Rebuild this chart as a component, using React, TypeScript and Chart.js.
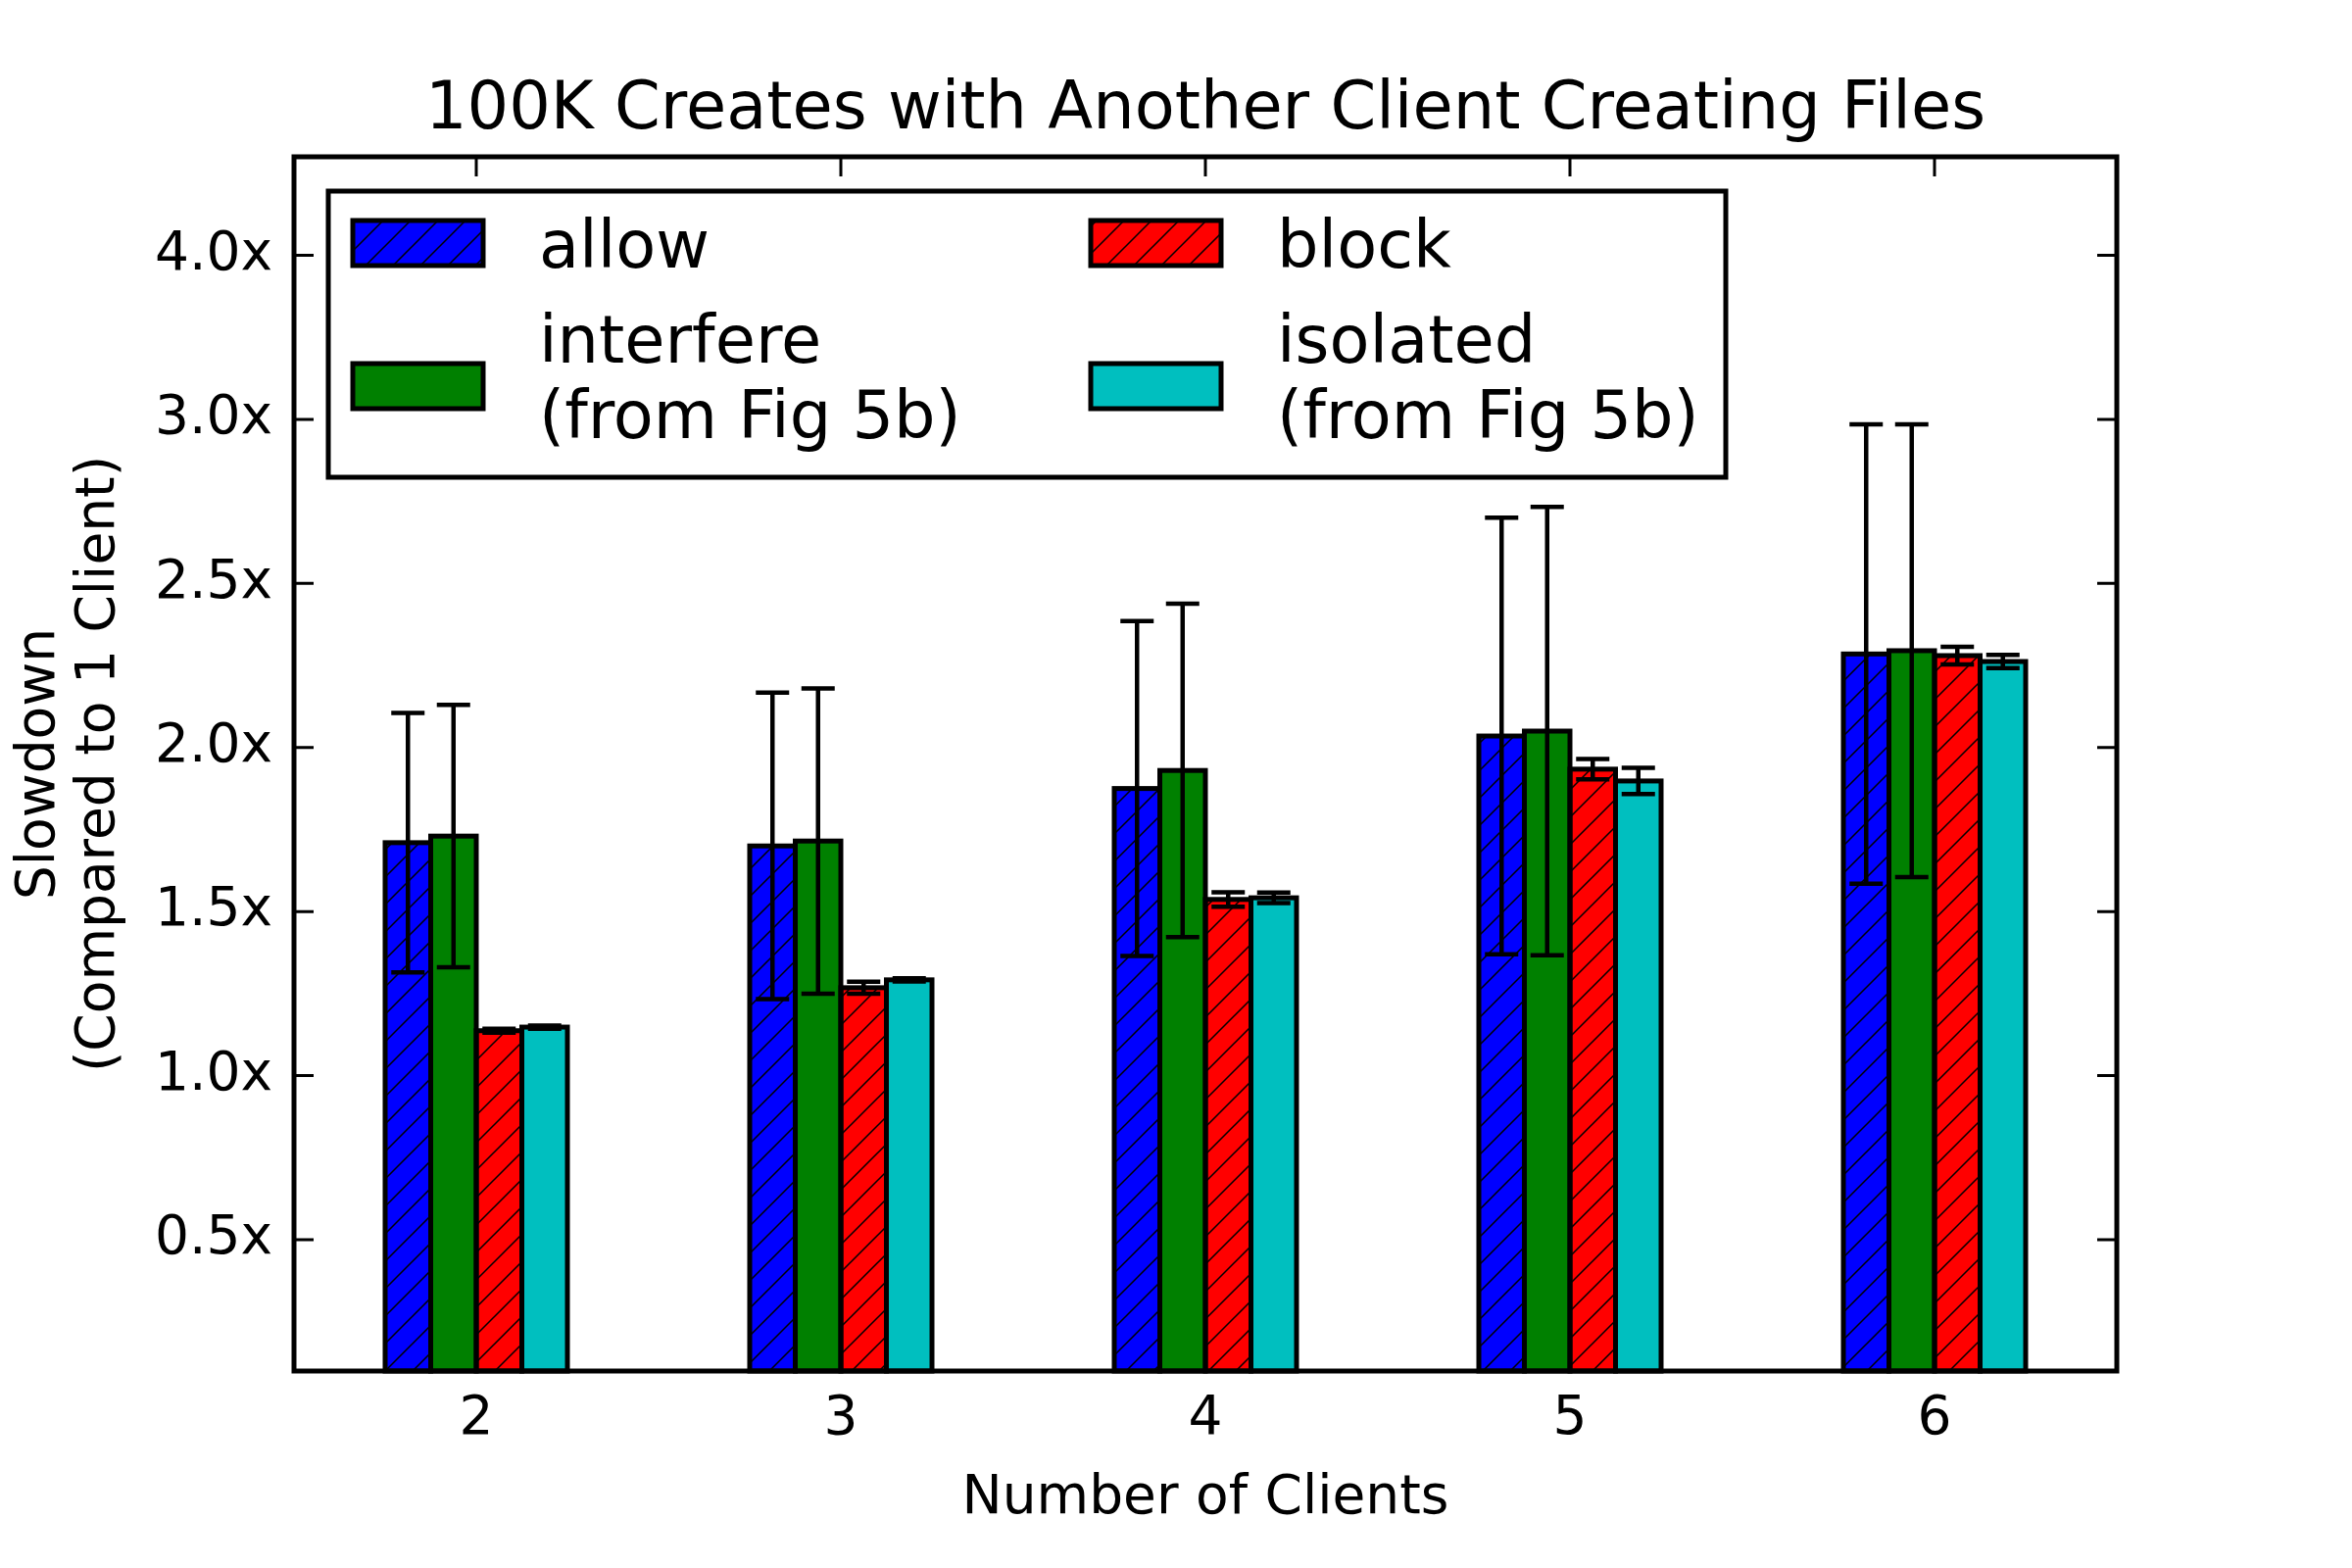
import React, { useEffect, useRef } from "react";
import { Chart, registerables } from "chart.js";

Chart.register(...registerables);

const categories = ["2", "3", "4", "5", "6"];
const allowValues = [1.71, 1.7, 1.875, 2.035, 2.285];
const allowErrors = [0.395, 0.467, 0.51, 0.665, 0.7];
const interfereValues = [1.73, 1.715, 1.93, 2.05, 2.295];
const interfereErrors = [0.4, 0.465, 0.508, 0.683, 0.69];
const blockValues = [1.137, 1.268, 1.537, 1.934, 2.28];
const blockErrors = [0.006, 0.018, 0.022, 0.031, 0.027];
const isolatedValues = [1.148, 1.292, 1.542, 1.898, 2.262];
const isolatedErrors = [0.005, 0.005, 0.016, 0.04, 0.02];
const yTickValues = [0.5, 1.0, 1.5, 2.0, 2.5, 3.0, 3.5];
const yTickLabels = ["0.5x", "1.0x", "1.5x", "2.0x", "2.5x", "3.0x", "4.0x"];
const seriesLabels = [["allow"], ["interfere", "(from Fig 5b)"], ["block"], ["isolated", "(from Fig 5b)"]];
const titleText = "100K Creates with Another Client Creating Files";
const xTitle = "Number of Clients";
const yTitle = ["Slowdown", "(Compared to 1 Client)"];

const FONT = "DejaVu Sans";

function makeHatch(ctx: CanvasRenderingContext2D, color: string): CanvasPattern | string {
  const s = 28;
  const c = document.createElement("canvas");
  c.width = s;
  c.height = s;
  const g = c.getContext("2d");
  if (!g) return color;
  g.fillStyle = color;
  g.fillRect(0, 0, s, s);
  g.strokeStyle = "#000";
  g.lineWidth = 1.5;
  g.beginPath();
  g.moveTo(-2, s + 2);
  g.lineTo(s + 2, -2);
  g.moveTo(-2, 2);
  g.lineTo(2, -2);
  g.moveTo(s - 2, s + 2);
  g.lineTo(s + 2, s - 2);
  g.stroke();
  return ctx.createPattern(c, "repeat") || color;
}

export default function App() {
  const canvasRef = useRef<HTMLCanvasElement | null>(null);

  useEffect(() => {
    const canvas = canvasRef.current;
    if (!canvas) return;
    const ctx0 = canvas.getContext("2d");
    if (!ctx0) return;

    const blueHatch = makeHatch(ctx0, "#0000ff");
    const redHatch = makeHatch(ctx0, "#ff0000");
    const fills: any[] = [blueHatch, "#008000", redHatch, "#00bfbf"];
    const errors = [allowErrors, interfereErrors, blockErrors, isolatedErrors];

    const customPlugin = {
      id: "mplStyle",
      afterDatasetsDraw(chart: any) {
        const ctx: CanvasRenderingContext2D = chart.ctx;
        const yScale = chart.scales.y;
        const xScale = chart.scales.x;
        const area = chart.chartArea;
        ctx.save();
        // bar outlines
        ctx.strokeStyle = "#000";
        ctx.lineWidth = 5;
        chart.data.datasets.forEach((_ds: any, i: number) => {
          const meta = chart.getDatasetMeta(i);
          meta.data.forEach((el: any) => {
            const p = el.getProps(["x", "y", "base", "width"], true);
            const base = Math.min(p.base, area.bottom);
            ctx.strokeRect(p.x - p.width / 2, p.y, p.width, base - p.y);
          });
        });
        // error bars
        ctx.lineWidth = 4.5;
        chart.data.datasets.forEach((ds: any, i: number) => {
          const meta = chart.getDatasetMeta(i);
          meta.data.forEach((el: any, j: number) => {
            const v = ds.data[j];
            const e = errors[i][j];
            const x = el.x;
            const yt = yScale.getPixelForValue(v + e);
            const yb = yScale.getPixelForValue(v - e);
            ctx.beginPath();
            ctx.moveTo(x, yt);
            ctx.lineTo(x, yb);
            ctx.moveTo(x - 17, yt);
            ctx.lineTo(x + 17, yt);
            ctx.moveTo(x - 17, yb);
            ctx.lineTo(x + 17, yb);
            ctx.stroke();
          });
        });
        // ticks
        ctx.lineWidth = 3;
        ctx.beginPath();
        yTickValues.forEach((v) => {
          const py = yScale.getPixelForValue(v);
          ctx.moveTo(area.left, py);
          ctx.lineTo(area.left + 20, py);
          ctx.moveTo(area.right, py);
          ctx.lineTo(area.right - 20, py);
        });
        categories.forEach((_c, i) => {
          const px = xScale.getPixelForValue(i);
          ctx.moveTo(px, area.top);
          ctx.lineTo(px, area.top + 20);
          ctx.moveTo(px, area.bottom);
          ctx.lineTo(px, area.bottom - 20);
        });
        ctx.stroke();
        // frame
        ctx.lineWidth = 5;
        ctx.strokeRect(area.left, area.top, area.right - area.left, area.bottom - area.top);
        ctx.restore();
      },
      afterDraw(chart: any) {
        const ctx: CanvasRenderingContext2D = chart.ctx;
        const area = chart.chartArea;
        const bx = area.left + 35;
        const by = area.top + 35;
        const bw = 1426;
        const bh = 292;
        ctx.save();
        ctx.fillStyle = "#fff";
        ctx.fillRect(bx, by, bw, bh);
        ctx.strokeStyle = "#000";
        ctx.lineWidth = 5;
        ctx.strokeRect(bx, by, bw, bh);
        const colX = [bx + 25, bx + 778];
        const rowSwatchY = [by + 30, by + 176];
        const rowBaselines = [[by + 78], [by + 175, by + 252]];
        ctx.font = `67px "${FONT}"`;
        ctx.textBaseline = "alphabetic";
        ctx.textAlign = "left";
        seriesLabels.forEach((lines, i) => {
          const col = Math.floor(i / 2);
          const row = i % 2;
          const sx = colX[col];
          const sy = rowSwatchY[row];
          ctx.fillStyle = fills[i];
          ctx.fillRect(sx, sy, 133, 46);
          ctx.lineWidth = 5;
          ctx.strokeStyle = "#000";
          ctx.strokeRect(sx, sy, 133, 46);
          ctx.fillStyle = "#000";
          const bls = lines.length === 1 ? rowBaselines[0] : rowBaselines[1];
          lines.forEach((t, k) => {
            ctx.fillText(t, sx + 190, bls[k]);
          });
        });
        ctx.restore();
      },
    };

    const chart = new Chart(canvas, {
      type: "bar",
      data: {
        labels: categories,
        datasets: [
          { label: "allow", data: allowValues, backgroundColor: blueHatch as any, borderWidth: 0 },
          { label: "interfere (from Fig 5b)", data: interfereValues, backgroundColor: "#008000", borderWidth: 0 },
          { label: "block", data: blockValues, backgroundColor: redHatch as any, borderWidth: 0 },
          { label: "isolated (from Fig 5b)", data: isolatedValues, backgroundColor: "#00bfbf", borderWidth: 0 },
        ],
      },
      options: {
        responsive: false,
        animation: false,
        devicePixelRatio: 1,
        layout: { padding: { left: 0, right: 240, top: 0, bottom: 0 } },
        datasets: { bar: { categoryPercentage: 0.5, barPercentage: 1.0 } },
        plugins: {
          legend: { display: false },
          tooltip: { enabled: false },
          title: {
            display: true,
            text: titleText,
            fullSize: false,
            color: "#000",
            font: { family: FONT, size: 67, weight: "normal", lineHeight: 1.2 },
            padding: { top: 73, bottom: 6.6 },
          },
        },
        scales: {
          x: {
            type: "category",
            offset: true,
            afterFit: (scale: any) => {
              scale.height = 201;
            },
            grid: { display: false, drawTicks: false },
            border: { display: false },
            ticks: { padding: 17, color: "#000", font: { family: FONT, size: 55 } },
            title: {
              display: true,
              text: xTitle,
              color: "#000",
              font: { family: FONT, size: 55, lineHeight: 1.2 },
              padding: { top: 0, bottom: 37 },
            },
          },
          y: {
            type: "linear",
            min: 0.1,
            max: 3.8,
            bounds: "data",
            afterBuildTicks: (scale: any) => {
              scale.ticks = yTickValues.map((v) => ({ value: v }));
            },
            afterFit: (scale: any) => {
              scale.width = 300;
            },
            grid: { display: false, drawTicks: false },
            border: { display: false },
            ticks: {
              padding: 22,
              color: "#000",
              autoSkip: false,
              font: { family: FONT, size: 55 },
              callback: (value: any) => {
                const idx = yTickValues.findIndex((v) => Math.abs(v - Number(value)) < 1e-6);
                return idx >= 0 ? yTickLabels[idx] : "";
              },
            },
            title: {
              display: true,
              text: yTitle,
              color: "#000",
              font: { family: FONT, size: 55, lineHeight: "61px" },
              padding: { top: 10, bottom: 0 },
            },
          },
        },
      } as any,
      plugins: [customPlugin],
    });

    return () => {
      chart.destroy();
    };
  }, []);

  return (
    <div style={{ position: "absolute", left: 0, top: 0, width: 2400, height: 1600, background: "#fff" }}>
      <canvas ref={canvasRef} width={2400} height={1600} style={{ width: 2400, height: 1600 }} />
    </div>
  );
}
